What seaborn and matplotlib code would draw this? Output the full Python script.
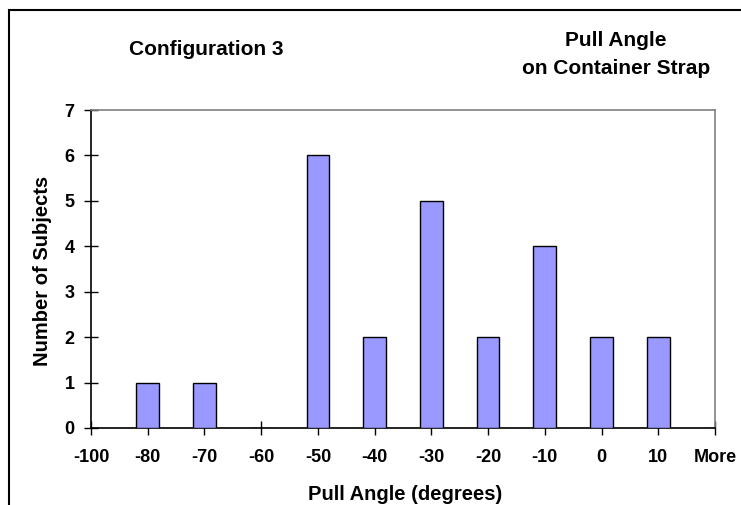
import pandas as pd
import matplotlib.pyplot as plt
from matplotlib.patches import Rectangle
import seaborn as sns

# Histogram bins (Excel style) and counts
bins = ['-100', '-80', '-70', '-60', '-50', '-40', '-30', '-20', '-10', '0', '10', 'More']
counts = [0, 1, 1, 0, 6, 2, 5, 2, 4, 2, 2, 0]

df = pd.DataFrame({'Bin': bins, 'Count': counts})

sns.set_style('white')
plt.rcParams['font.family'] = ['Liberation Sans', 'DejaVu Sans']
plt.rcParams['font.weight'] = 'bold'
plt.rcParams['text.color'] = 'black'
plt.rcParams['axes.labelcolor'] = 'black'
plt.rcParams['xtick.color'] = 'black'
plt.rcParams['ytick.color'] = 'black'

W, H = 741, 505
fig = plt.figure(figsize=(W / 100, H / 100), dpi=100)
ax = fig.add_axes([91 / W, 1 - 428 / H, (715 - 91) / W, (428 - 110) / H])

sns.barplot(data=df, x='Bin', y='Count', order=bins, color='#9999FF',
            edgecolor='black', linewidth=1, width=0.4, saturation=1, ax=ax, zorder=3)

ax.set_xlim(0, len(bins) - 1)
ax.set_ylim(0, 7)
ax.set_yticks(range(0, 8))
ax.tick_params(axis='both', bottom=True, left=True, direction='inout', length=10.5,
               width=1, color='black', labelsize=13)
ax.tick_params(axis='x', pad=10)
ax.tick_params(axis='y', pad=6.5)
for lab in ax.get_xticklabels() + ax.get_yticklabels():
    lab.set_fontweight('bold')

for side in ['left', 'bottom']:
    ax.spines[side].set_color('black')
    ax.spines[side].set_linewidth(1.2)
for side in ['top', 'right']:
    ax.spines[side].set_color('#808080')
    ax.spines[side].set_linewidth(1.2)

ax.set_xlabel('Pull Angle (degrees)', fontsize=14.5, fontweight='bold')
ax.set_ylabel('Number of Subjects', fontsize=14.5, fontweight='bold')
ax.xaxis.set_label_coords(405 / W, 1 - 500 / H, transform=fig.transFigure)
ax.xaxis.label.set_va('baseline')
ax.yaxis.set_label_coords(48 / W, 1 - 271 / H, transform=fig.transFigure)
ax.yaxis.label.set_va('baseline')

fig.text(206.5 / W, 1 - 55 / H, 'Configuration 3', ha='center', va='baseline',
         fontsize=15, fontweight='bold')
fig.text(616 / W, 1 - 46 / H, 'Pull Angle', ha='center', va='baseline',
         fontsize=15, fontweight='bold')
fig.text(616 / W, 1 - 74 / H, 'on Container Strap', ha='center', va='baseline',
         fontsize=15, fontweight='bold')

# outer chart frame (bottom edge cut off in the reference)
fig.patches.append(Rectangle((9 / W, -0.1), 1.0, 1.1 - 10 / H, transform=fig.transFigure,
                             fill=False, edgecolor='black', linewidth=1.5))

fig.savefig('out.png', dpi=100)
